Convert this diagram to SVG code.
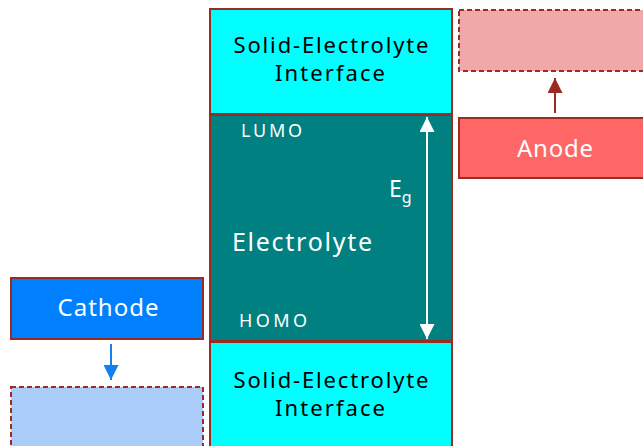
<svg xmlns="http://www.w3.org/2000/svg" width="643" height="446" viewBox="0 0 643 446">
<defs>
<style>
.box{stroke:#9b2b20;stroke-width:2}
.dash{stroke:#9b2b20;stroke-width:2;stroke-dasharray:5 3}
text{font-family:"Noto Sans","DejaVu Sans",sans-serif}
.blk{fill:#000;font-size:22px;text-anchor:middle}
.wht{fill:#fff}
</style>
<marker id="ab" viewBox="0 0 10 10" refX="10" refY="5" markerWidth="15" markerHeight="15" markerUnits="userSpaceOnUse" orient="auto"><path d="M0,0 L10,5 L0,10 Z" fill="#1480f0"/></marker>
<marker id="ar" viewBox="0 0 10 10" refX="10" refY="5" markerWidth="15" markerHeight="15" markerUnits="userSpaceOnUse" orient="auto"><path d="M0,0 L10,5 L0,10 Z" fill="#9b2b20"/></marker>
<marker id="aw" viewBox="0 0 10 10" refX="10" refY="5" markerWidth="15" markerHeight="15" markerUnits="userSpaceOnUse" orient="auto-start-reverse"><path d="M0,0 L10,5 L0,10 Z" fill="#fff"/></marker>
</defs>
<g id="sei-top"><rect class="box" x="210" y="9" width="242" height="105" fill="#00ffff"/><text class="blk" x="331" y="53" textLength="195" lengthAdjust="spacing">Solid-Electrolyte</text><text class="blk" x="330" y="81" textLength="110" lengthAdjust="spacing">Interface</text></g>
<g id="electrolyte"><rect class="box" x="210" y="115" width="242" height="226" fill="#008080"/><text class="wht" x="241" y="137" font-size="18" textLength="61" lengthAdjust="spacing">LUMO</text><text class="wht" x="239" y="327" font-size="18" textLength="68" lengthAdjust="spacing">HOMO</text><text class="wht" x="232" y="251" font-size="25" textLength="140" lengthAdjust="spacing">Electrolyte</text><text class="wht" x="389" y="197" font-size="23">E<tspan font-size="16" dy="6">g</tspan></text></g>
<g id="sei-bottom"><rect class="box" x="210" y="342" width="242" height="110" fill="#00ffff"/><text class="blk" x="331" y="388" textLength="195" lengthAdjust="spacing">Solid-Electrolyte</text><text class="blk" x="330" y="416" textLength="110" lengthAdjust="spacing">Interface</text></g>
<g id="anode-sei"><rect class="dash" x="459" y="10" width="190" height="61" fill="#f0a8a8"/></g>
<g id="anode"><rect class="box" x="459" y="118" width="190" height="60" fill="#ff6666"/><text class="wht" x="555" y="157" font-size="24" text-anchor="middle" textLength="76" lengthAdjust="spacing">Anode</text></g>
<g id="cathode"><rect class="box" x="11" y="278" width="192" height="61" fill="#0080ff"/><text class="wht" x="108" y="316" font-size="24" text-anchor="middle" textLength="101" lengthAdjust="spacing">Cathode</text></g>
<g id="cathode-sei"><rect class="dash" x="11" y="387" width="192" height="65" fill="#aaccf8"/></g>
<g id="connectors">
<line x1="111" y1="344" x2="111" y2="380" stroke="#1480f0" stroke-width="2" marker-end="url(#ab)"/>
<line x1="555" y1="113" x2="555" y2="78" stroke="#9b2b20" stroke-width="2" marker-end="url(#ar)"/>
<line x1="427" y1="117" x2="427" y2="339" stroke="#fff" stroke-width="2" marker-start="url(#aw)" marker-end="url(#aw)"/>
</g>
</svg>
